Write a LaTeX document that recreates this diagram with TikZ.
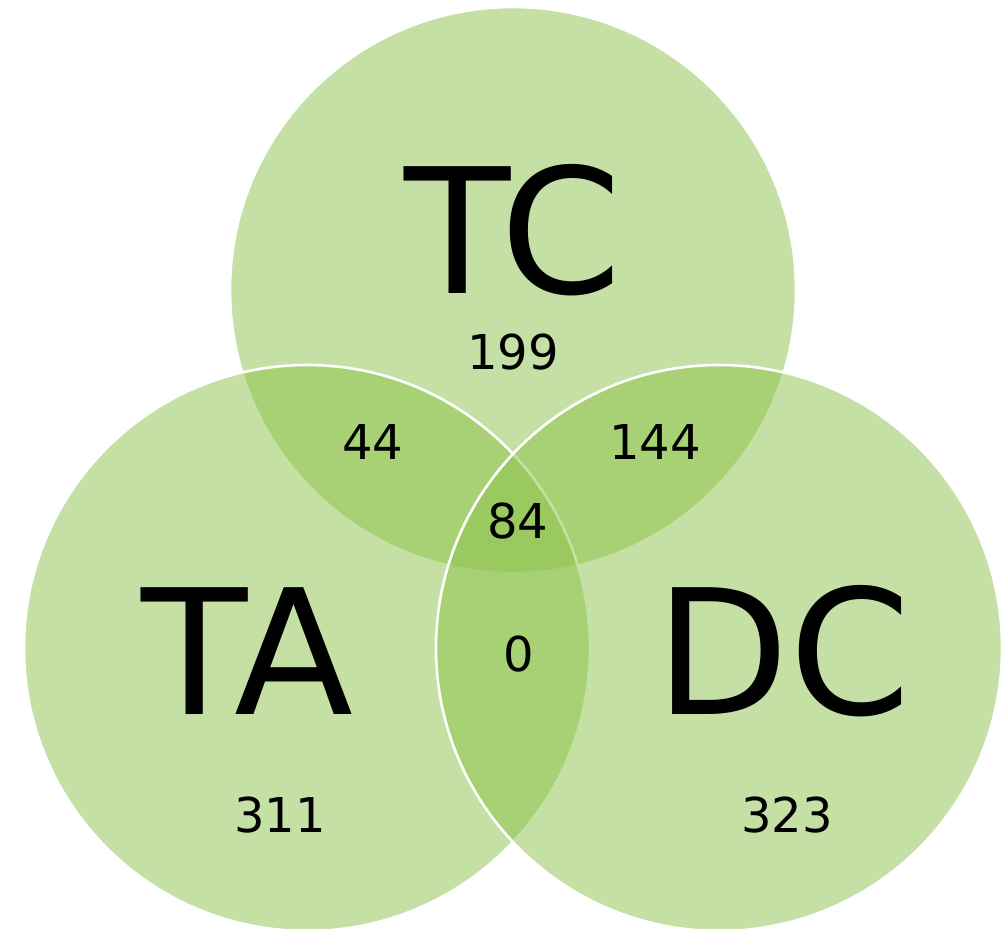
\documentclass[tikz,border=0pt]{standalone}
\usepackage{fontspec}
\setmainfont{DejaVu Sans}
\definecolor{setgreen}{RGB}{139,194,73}
\tikzset{
	setcircle/.style={fill=setgreen, fill opacity=0.5, draw=white, line width=2.6pt},
	setname/.style={font=\fontsize{174}{174}\selectfont},
	setcount/.style={font=\fontsize{48}{48}\selectfont}
}
\begin{document}
\begin{tikzpicture}[x=1pt,y=-1pt]
	\useasboundingbox (0,0) rectangle (1004,929);
	\begin{scope}
		\clip (0,0) rectangle (1004,929);
		\draw[setcircle] (513,290) circle (283pt);
		\draw[setcircle] (307,648) circle (283pt);
		\draw[setcircle] (719,648) circle (283pt);
	\end{scope}
	
	\node[setname] (tc) at (513,230) {TC};
	\node[setname] (ta) at (247,651) {TA};
	\node[setname] (dc) at (783,651) {DC};
	
	\node[setcount] (tconly) at (513,352) {199};
	\node[setcount] (taonly) at (280,815) {311};
	\node[setcount] (dconly) at (787,815) {323};
	\node[setcount] (tcta) at (373,442) {44};
	\node[setcount] (tcdc) at (655,442) {144};
	\node[setcount] (tadc) at (519,654) {0};
	\node[setcount] (all) at (518,521) {84};
\end{tikzpicture}
\end{document}
